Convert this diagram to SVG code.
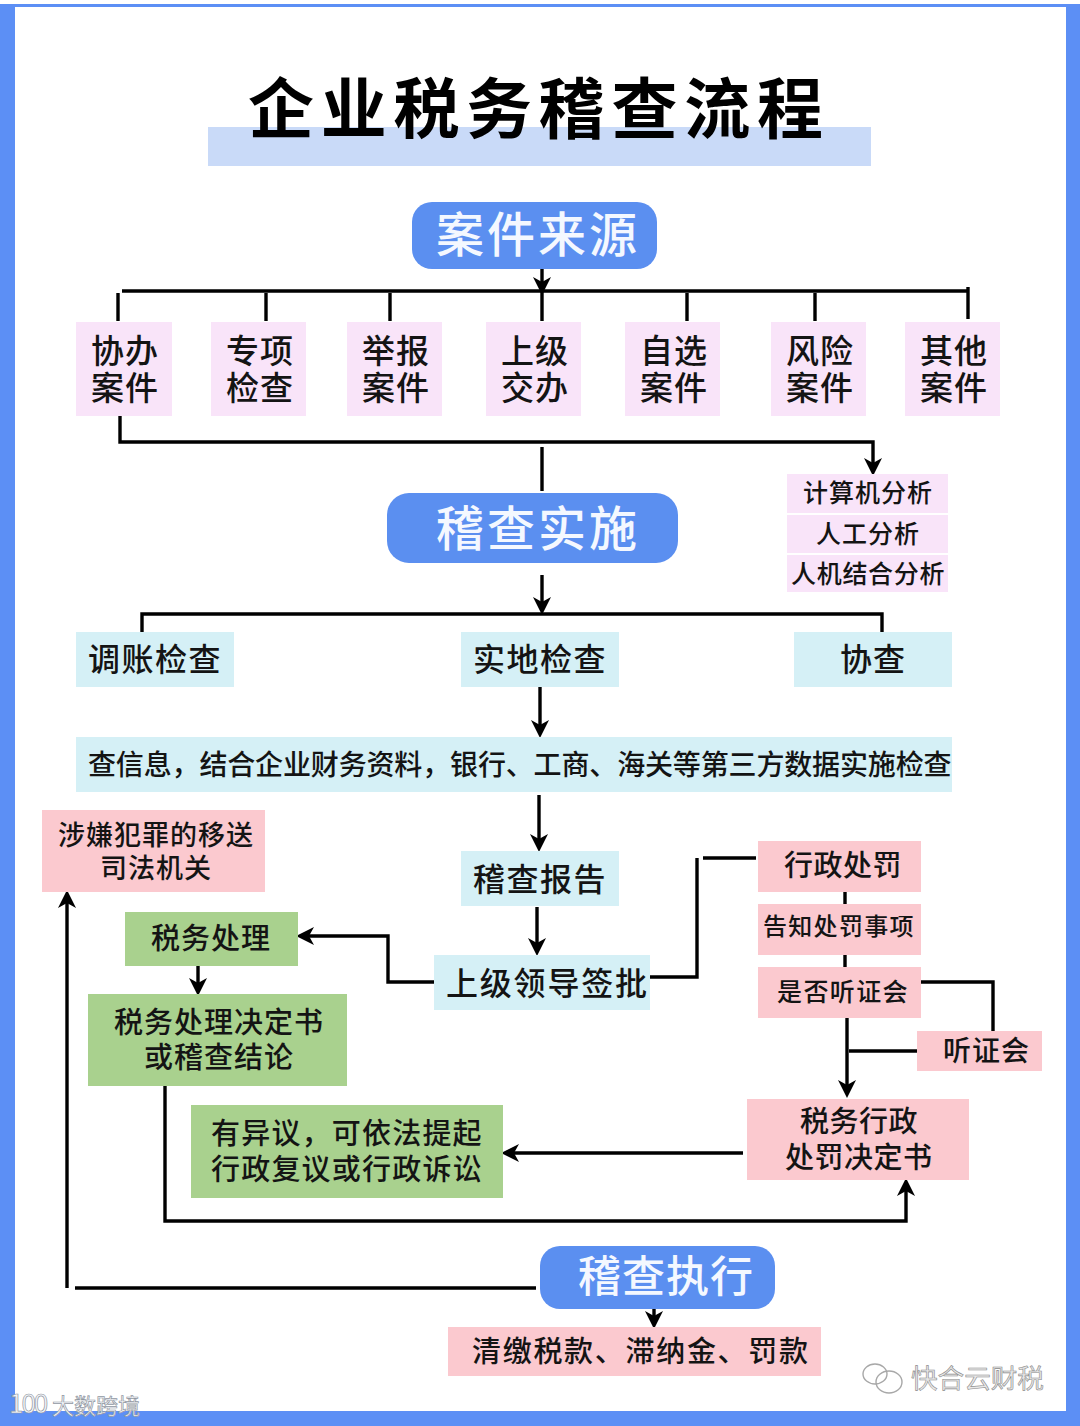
<svg xmlns="http://www.w3.org/2000/svg" width="1080" height="1426" viewBox="0 0 1080 1426">
<style>
text{font-family:"Noto Sans CJK SC","Noto Sans",sans-serif;fill:#141414;font-weight:500}
.hd{fill:#f4f8ff;font-weight:500}
.blue{fill:#5b8ff0}.lp{fill:#f9e4f9}.cy{fill:#d5f0f6}.pk{fill:#fbc9cf}.gr{fill:#a9d18e}
.c{fill:none;stroke:#000;stroke-width:3.4}
.wm{fill:#e8e8e8;stroke:#8a8a8a;stroke-width:.6;font-weight:400}
.wl{fill:#f4f6fa;stroke:#9298a2;stroke-width:.7;font-weight:400}
</style>
<defs>
<marker id="arrow" markerUnits="userSpaceOnUse" markerWidth="24" markerHeight="24" refX="5" refY="12" orient="auto">
<path d="M0 3 L18 12 L0 21 L5 12 Z" fill="#000"/>
</marker>
</defs>
<rect width="1080" height="1426" fill="#5c8ff5"/>
<rect x="0" y="0" width="1080" height="4" fill="#ffffff"/>
<rect x="15" y="7" width="1051" height="1404" fill="#ffffff"/>
<g id="title">
<rect x="208" y="127" width="663" height="39" fill="#c9daf8"/>
<text x="248" y="133" font-size="66" letter-spacing="6.7" style="font-weight:700;fill:#000">企业税务稽查流程</text>
</g>
<g id="connectors">
<path class="c" d="M542 269V282" marker-end="url(#arrow)"/>
<path class="c" d="M122 291H968M118 293V321M266 293V321M390 293V321M542 291V321M687 293V321M815 293V321M968 287V319"/>
<path class="c" d="M120 416V442H873V463" marker-end="url(#arrow)"/>
<path class="c" d="M542 447V491"/>
<path class="c" d="M542 575V602" marker-end="url(#arrow)"/>
<path class="c" d="M142 632V614H882V632"/>
<path class="c" d="M540 687V725" marker-end="url(#arrow)"/>
<path class="c" d="M539 795V839" marker-end="url(#arrow)"/>
<path class="c" d="M537 907V943" marker-end="url(#arrow)"/>
<path class="c" d="M434 982H388V936H309" marker-end="url(#arrow)"/>
<path class="c" d="M650 977H697V858M703 858H756"/>
<path class="c" d="M845 892V904M845 955V967"/>
<path class="c" d="M921 982H993V1031"/>
<path class="c" d="M847 1018V1085" marker-end="url(#arrow)"/>
<path class="c" d="M849 1051H919"/>
<path class="c" d="M743 1153H514" marker-end="url(#arrow)"/>
<path class="c" d="M198 966V983" marker-end="url(#arrow)"/>
<path class="c" d="M165 1086V1221H906V1191" marker-end="url(#arrow)"/>
<path class="c" d="M536 1288H75M67 1288V903" marker-end="url(#arrow)"/>
<path class="c" d="M654 1309V1316" marker-end="url(#arrow)"/>
</g>
<g id="n-source"><rect class="blue" x="412" y="202" width="245" height="67" rx="20"/><text class="hd" x="436" y="252" font-size="48" letter-spacing="3">案件来源</text></g>
<g id="n-xieban"><rect class="lp" x="76" y="322" width="96" height="94"/><text x="91" y="363" font-size="33" letter-spacing="1">协办</text><text x="91" y="400" font-size="33" letter-spacing="1">案件</text></g>
<g id="n-zhuanxiang"><rect class="lp" x="211" y="322" width="95" height="94"/><text x="226" y="363" font-size="33" letter-spacing="1">专项</text><text x="226" y="400" font-size="33" letter-spacing="1">检查</text></g>
<g id="n-jubao"><rect class="lp" x="347" y="322" width="95" height="94"/><text x="362" y="363" font-size="33" letter-spacing="1">举报</text><text x="362" y="400" font-size="33" letter-spacing="1">案件</text></g>
<g id="n-shangji"><rect class="lp" x="486" y="322" width="95" height="94"/><text x="501" y="363" font-size="33" letter-spacing="1">上级</text><text x="501" y="400" font-size="33" letter-spacing="1">交办</text></g>
<g id="n-zixuan"><rect class="lp" x="625" y="322" width="95" height="94"/><text x="640" y="363" font-size="33" letter-spacing="1">自选</text><text x="640" y="400" font-size="33" letter-spacing="1">案件</text></g>
<g id="n-fengxian"><rect class="lp" x="771" y="322" width="95" height="94"/><text x="786" y="363" font-size="33" letter-spacing="1">风险</text><text x="786" y="400" font-size="33" letter-spacing="1">案件</text></g>
<g id="n-qita"><rect class="lp" x="905" y="322" width="95" height="94"/><text x="920" y="363" font-size="33" letter-spacing="1">其他</text><text x="920" y="400" font-size="33" letter-spacing="1">案件</text></g>
<g id="n-computer"><rect class="lp" x="787" y="474" width="161" height="39"/><text x="803" y="502" font-size="25" letter-spacing="1">计算机分析</text></g>
<g id="n-manual"><rect class="lp" x="787" y="515" width="161" height="38"/><text x="816" y="543" font-size="25" letter-spacing="1">人工分析</text></g>
<g id="n-both"><rect class="lp" x="787" y="555" width="161" height="37"/><text x="791" y="583" font-size="25" letter-spacing=".7">人机结合分析</text></g>
<g id="n-implement"><rect class="blue" x="387" y="493" width="291" height="70" rx="22"/><text class="hd" x="436" y="546" font-size="48" letter-spacing="3">稽查实施</text></g>
<g id="n-tiaozhang"><rect class="cy" x="76" y="632" width="158" height="55"/><text x="88" y="671" font-size="32" letter-spacing="1.5">调账检查</text></g>
<g id="n-shidi"><rect class="cy" x="461" y="632" width="158" height="55"/><text x="473" y="671" font-size="32" letter-spacing="1.5">实地检查</text></g>
<g id="n-xiecha"><rect class="cy" x="794" y="632" width="158" height="55"/><text x="840" y="671" font-size="32" letter-spacing="1">协查</text></g>
<g id="n-info"><rect class="cy" x="76" y="737" width="876" height="55"/><text x="88" y="775" font-size="28" letter-spacing="-.15">查信息，结合企业财务资料，银行、工商、海关等第三方数据实施检查</text></g>
<g id="n-crime"><rect class="pk" x="42" y="810" width="223" height="82"/><text x="58" y="845" font-size="27" letter-spacing="1">涉嫌犯罪的移送</text><text x="100" y="878" font-size="27" letter-spacing="1">司法机关</text></g>
<g id="n-report"><rect class="cy" x="461" y="851" width="158" height="55"/><text x="473" y="891" font-size="32" letter-spacing="1.5">稽查报告</text></g>
<g id="n-approve"><rect class="cy" x="434" y="955" width="216" height="55"/><text x="446" y="995" font-size="32" letter-spacing="1.8">上级领导签批</text></g>
<g id="n-taxhandle"><rect class="gr" x="125" y="912" width="173" height="54"/><text x="151" y="949" font-size="29" letter-spacing="1">税务处理</text></g>
<g id="n-decision"><rect class="gr" x="88" y="994" width="259" height="92"/><text x="114" y="1033" font-size="29" letter-spacing="1">税务处理决定书</text><text x="144" y="1068" font-size="29" letter-spacing="1">或稽查结论</text></g>
<g id="n-objection"><rect class="gr" x="191" y="1105" width="312" height="93"/><text x="211" y="1144" font-size="29" letter-spacing="1.2">有异议，可依法提起</text><text x="211" y="1180" font-size="29" letter-spacing="1.2">行政复议或行政诉讼</text></g>
<g id="n-penalty"><rect class="pk" x="758" y="841" width="163" height="51"/><text x="784" y="876" font-size="29" letter-spacing=".5">行政处罚</text></g>
<g id="n-notify"><rect class="pk" x="758" y="904" width="163" height="51"/><text x="763" y="935" font-size="24" letter-spacing="1.3">告知处罚事项</text></g>
<g id="n-ifhearing"><rect class="pk" x="758" y="967" width="163" height="51"/><text x="777" y="1001" font-size="25" letter-spacing="1.4">是否听证会</text></g>
<g id="n-hearing"><rect class="pk" x="917" y="1031" width="125" height="40"/><text x="943" y="1061" font-size="28" letter-spacing="1">听证会</text></g>
<g id="n-penaltydoc"><rect class="pk" x="747" y="1099" width="222" height="81"/><text x="800" y="1132" font-size="29" letter-spacing=".5">税务行政</text><text x="785" y="1168" font-size="29" letter-spacing=".5">处罚决定书</text></g>
<g id="n-enforce"><rect class="blue" x="540" y="1246" width="235" height="63" rx="20"/><text class="hd" x="578" y="1292" font-size="43" letter-spacing="1">稽查执行</text></g>
<g id="n-pay"><rect class="pk" x="448" y="1327" width="373" height="49"/><text x="472" y="1362" font-size="29" letter-spacing="1.7">清缴税款、滞纳金、罚款</text></g>
<g id="watermarks">
<g fill="none" stroke="#a8a8a8" stroke-width="1.4"><ellipse cx="875" cy="1374" rx="12" ry="10"/><ellipse cx="889" cy="1382" rx="13" ry="11"/></g>
<text class="wm" x="911" y="1388" font-size="26.6">快合云财税</text>
<text class="wl" x="9" y="1413" font-size="26" letter-spacing="-2">100</text>
<text class="wl" x="52" y="1414" font-size="22">大数跨境</text>
</g>
</svg>
